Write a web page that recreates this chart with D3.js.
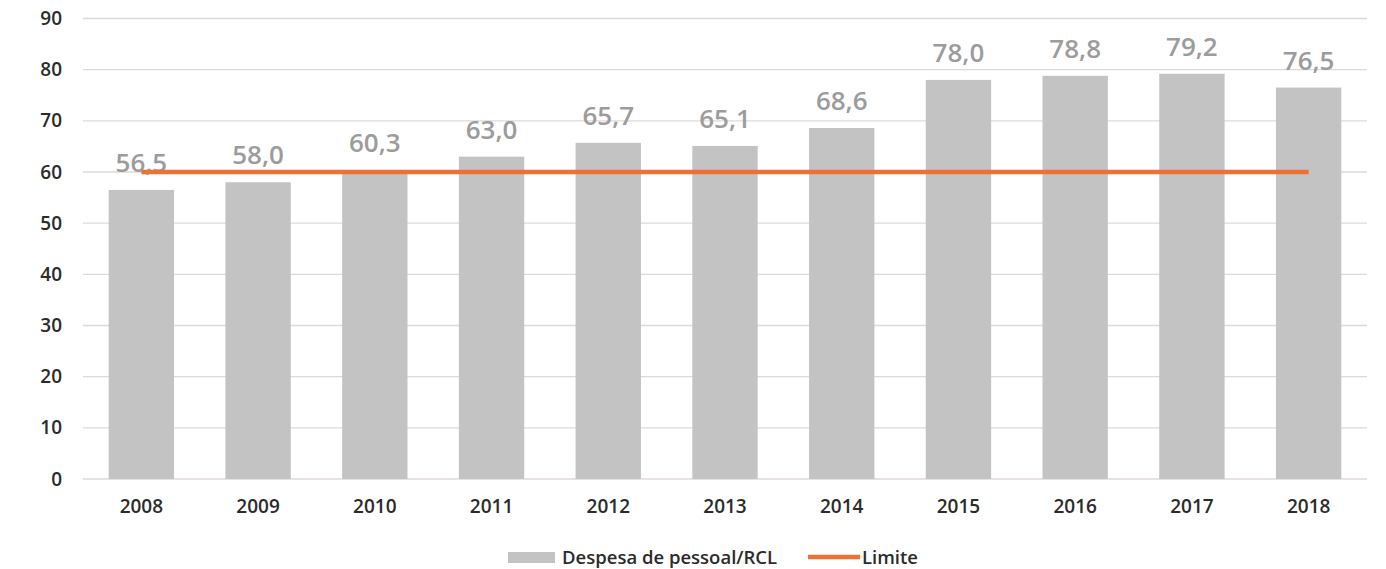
<!DOCTYPE html>
<html>
<head>
<meta charset="utf-8">
<script src="https://cdn.jsdelivr.net/npm/d3@7"></script>
<style>
  body { margin: 0; background: #fff; }
  svg { display: block; font-family: "Open Sans", sans-serif; }
</style>
</head>
<body>
<div id="viz"></div>
<script>
const anos = ["2008", "2009", "2010", "2011", "2012", "2013", "2014", "2015", "2016", "2017", "2018"];
const despesa = [56.5, 58.0, 60.3, 63.0, 65.7, 65.1, 68.6, 78.0, 78.8, 79.2, 76.5];
const limite = [60, 60, 60, 60, 60, 60, 60, 60, 60, 60, 60];
const yTicks = [0, 10, 20, 30, 40, 50, 60, 70, 80, 90];

const width = 1386, height = 569;
const plotLeft = 83, plotRight = 1367, plotTop = 18.5, plotBottom = 479;

const svg = d3.select("#viz").append("svg")
    .attr("width", width)
    .attr("height", height);

const x = d3.scaleBand().domain(anos).range([plotLeft, plotRight]).paddingInner(0.44).paddingOuter(0.22);
const y = d3.scaleLinear().domain([0, 90]).range([plotBottom, plotTop]);

// linhas de grade
svg.append("g")
    .selectAll("line")
    .data(yTicks)
    .join("line")
    .attr("x1", plotLeft).attr("x2", plotRight)
    .attr("y1", d => y(d)).attr("y2", d => y(d))
    .attr("stroke", "#e0d9d7")
    .attr("stroke-width", 1.3);

// eixo y
const yAxis = svg.append("g")
    .attr("transform", `translate(${plotLeft - 21},0)`)
    .call(d3.axisLeft(y).tickValues(yTicks).tickSize(0).tickPadding(0));
yAxis.select(".domain").remove();
yAxis.selectAll("text")
    .attr("font-size", 19).attr("font-weight", 600)
    .attr("fill", "#2b2b2b").attr("font-family", "Open Sans");

// eixo x
const xAxis = svg.append("g")
    .attr("transform", `translate(0,${plotBottom})`)
    .call(d3.axisBottom(x).tickSize(0).tickPadding(21));
xAxis.select(".domain").remove();
xAxis.selectAll("text")
    .attr("font-size", 19).attr("font-weight", 600)
    .attr("fill", "#2b2b2b").attr("font-family", "Open Sans");

// barras
svg.append("g")
    .selectAll("rect")
    .data(despesa)
    .join("rect")
    .attr("x", (d, i) => x(anos[i]))
    .attr("y", d => y(d))
    .attr("width", x.bandwidth())
    .attr("height", d => plotBottom - y(d))
    .attr("fill", "#c3c3c3");

// rótulos
svg.append("g")
    .selectAll("text")
    .data(despesa)
    .join("text")
    .attr("x", (d, i) => x(anos[i]) + x.bandwidth() / 2)
    .attr("y", d => y(d) - 18)
    .attr("text-anchor", "middle")
    .attr("font-size", 26)
    .attr("font-weight", 600)
    .attr("fill", "#9c9c9c")
    .text(d => d.toFixed(1).replace(".", ","));

// linha limite
const line = d3.line()
    .x((d, i) => x(anos[i]) + x.bandwidth() / 2)
    .y(d => y(d));
svg.append("path")
    .datum(limite)
    .attr("d", line)
    .attr("fill", "none")
    .attr("stroke", "#ec7134")
    .attr("stroke-width", 4.5);

// legenda
const leg = svg.append("g").attr("font-size", 18.5).attr("font-weight", 600).attr("fill", "#2b2b2b");
leg.append("rect").attr("x", 508).attr("y", 552).attr("width", 47).attr("height", 11).attr("fill", "#c3c3c3");
leg.append("text").attr("x", 562).attr("y", 564).text("Despesa de pessoal/RCL");
leg.append("line").attr("x1", 808).attr("x2", 860).attr("y1", 557).attr("y2", 557)
    .attr("stroke", "#ec7134").attr("stroke-width", 4.5);
leg.append("text").attr("x", 862).attr("y", 564).text("Limite");
</script>
</body>
</html>
